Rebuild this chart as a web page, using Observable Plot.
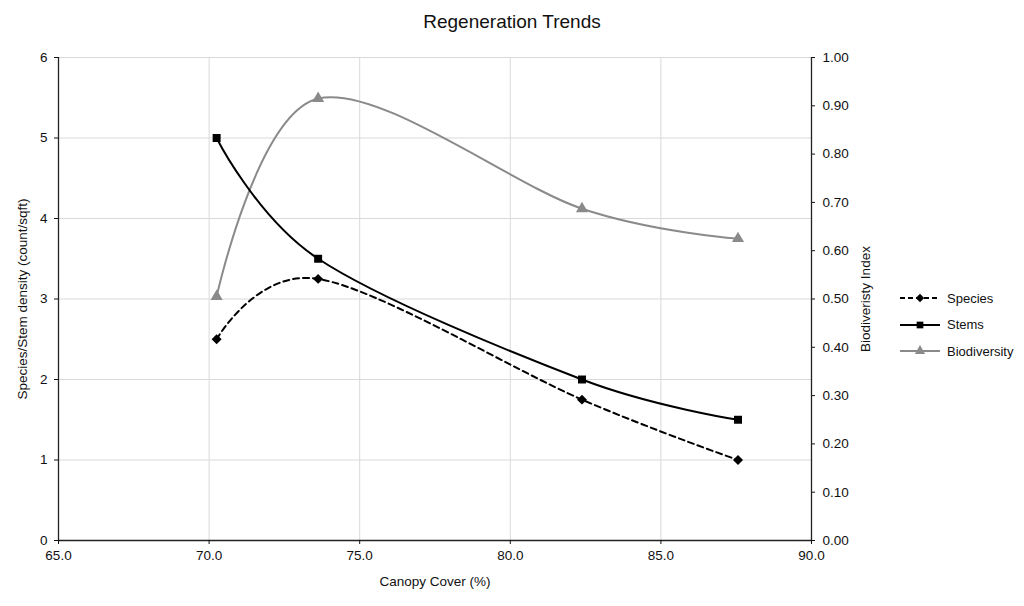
<!DOCTYPE html>
<html>
<head>
<meta charset="utf-8">
<script src="https://cdn.jsdelivr.net/npm/d3@7"></script>
<script src="https://cdn.jsdelivr.net/npm/@observablehq/plot@0.6"></script>
<style>
  body { margin: 0; background: #fff; font-family: "Liberation Sans", Arial, sans-serif; }
  #wrap { position: relative; width: 1024px; height: 606px; }
  #title { height: 40px; line-height: 44px; text-align: center; font-size: 19px; color: #111; }
  #legend { position: absolute; left: 898px; top: 285px; font-size: 13px; color: #111; }
  #legend .item { display: flex; align-items: center; height: 26.5px; }
  #legend svg { margin-right: 5px; }
</style>
</head>
<body>
<div id="wrap">
  <div id="title">Regeneration Trends</div>
  <div id="chart"></div>
  <div id="legend"></div>
</div>
<script>
// ---- data ----
const canopy = [70.25, 73.62, 82.38, 87.56];
const species = [2.5, 3.25, 1.75, 1.0];
const stems = [5.0, 3.5, 2.0, 1.5];
const biodiversity = [0.505, 0.915, 0.687, 0.625];
const seriesNames = ["Species", "Stems", "Biodiversity"];
const xTicks = [65, 70, 75, 80, 85, 90];
const yTicks = [0, 1, 2, 3, 4, 5, 6];
const rightTicks = [0, 0.1, 0.2, 0.3, 0.4, 0.5, 0.6, 0.7, 0.8, 0.9, 1.0];

const leftMax = 6, rightMax = 1;
const k = leftMax / rightMax;
const rows = canopy.map((c, i) => ({canopy: c, species: species[i], stems: stems[i], bio: biodiversity[i] * k}));

const gray = "#8a8a8a";

const chart = Plot.plot({
  width: 1024,
  height: 566,
  marginLeft: 58,
  marginRight: 213,
  marginTop: 17,
  marginBottom: 66,
  style: {fontFamily: "Liberation Sans, Arial, sans-serif", fontSize: "13.5px", color: "#111", background: "white"},
  x: {domain: [65, 90]},
  y: {domain: [0, 6]},
  marks: [
    Plot.gridX(xTicks, {stroke: "#d9d9d9", strokeOpacity: 1}),
    Plot.gridY(yTicks, {stroke: "#d9d9d9", strokeOpacity: 1}),
    Plot.ruleY([0], {stroke: "#222", strokeWidth: 1.3}),
    Plot.ruleX([65], {stroke: "#222", strokeWidth: 1.3}),
    Plot.ruleX([90], {stroke: "#222", strokeWidth: 1.3}),
    Plot.axisX({ticks: xTicks, tickFormat: d => d.toFixed(1), tickSize: 4, tickPadding: 6,
      label: "Canopy Cover (%)", labelAnchor: "center", labelArrow: "none", labelOffset: 45}),
    Plot.axisY({ticks: yTicks, tickFormat: d => String(d), tickSize: 4, tickPadding: 7,
      label: "Species/Stem density (count/sqft)", labelAnchor: "center", labelArrow: "none", labelOffset: 41}),
    Plot.axisY({anchor: "right", ticks: rightTicks.map(v => v * k), tickFormat: d => (d / k).toFixed(2),
      tickSize: 3, tickPadding: 8,
      label: "Biodiveristy Index", labelAnchor: "center", labelArrow: "none", labelOffset: 58}),
    Plot.line(rows, {x: "canopy", y: "bio", curve: "cardinal", stroke: gray, strokeWidth: 2}),
    Plot.line(rows, {x: "canopy", y: "stems", curve: "cardinal", stroke: "black", strokeWidth: 2}),
    Plot.line(rows, {x: "canopy", y: "species", curve: "cardinal", stroke: "black", strokeWidth: 2, strokeDasharray: "6,4"}),
    Plot.dot(rows, {x: "canopy", y: "bio", symbol: "triangle", fill: gray, r: 4.5}),
    Plot.dot(rows, {x: "canopy", y: "stems", symbol: "square", fill: "black", r: 4.5}),
    Plot.dot(rows, {x: "canopy", y: "species", symbol: "diamond2", fill: "black", r: 4.5})
  ]
});
document.getElementById("chart").appendChild(chart);

// legend
const styles = [
  {stroke: "black", dash: "5,3", sym: d3.symbolDiamond2, fill: "black"},
  {stroke: "black", dash: null, sym: d3.symbolSquare, fill: "black"},
  {stroke: gray, dash: null, sym: d3.symbolTriangle, fill: gray}
];
const legend = d3.select("#legend");
seriesNames.forEach((name, i) => {
  const s = styles[i];
  const item = legend.append("div").attr("class", "item");
  const svg = item.append("svg").attr("width", 44).attr("height", 12);
  svg.append("line").attr("x1", 2).attr("x2", 42).attr("y1", 6).attr("y2", 6)
    .attr("stroke", s.stroke).attr("stroke-width", 2).attr("stroke-dasharray", s.dash);
  svg.append("path").attr("d", d3.symbol(s.sym, 45)()).attr("transform", "translate(22,6)").attr("fill", s.fill);
  item.append("span").text(name);
});
</script>
</body>
</html>
